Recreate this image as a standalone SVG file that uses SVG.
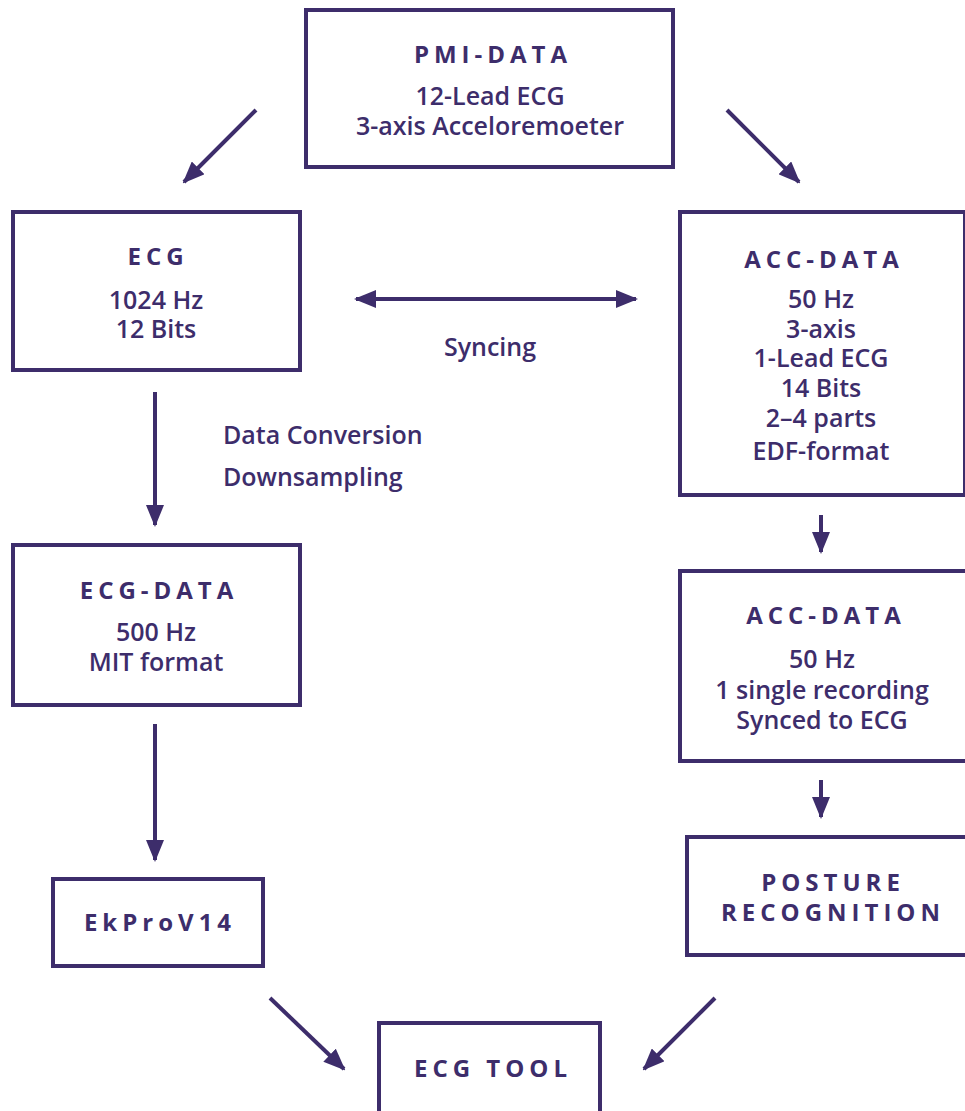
<svg xmlns="http://www.w3.org/2000/svg" width="965" height="1111" viewBox="0 0 965 1111">
<style>
.box{fill:#fff;stroke:#3d2d6b;stroke-width:4}
.t{font-family:"Open Sans","Liberation Sans",sans-serif;font-weight:700;fill:#3d2d6b;text-anchor:middle}
.h{font-size:24px;letter-spacing:5px}
.b{font-size:25px;font-weight:600}
.lbl{font-family:"Open Sans","Liberation Sans",sans-serif;font-weight:600;fill:#3d2d6b;font-size:25px}
.c{fill:none;stroke:#3d2d6b;stroke-width:4}
</style>
<defs>
<marker id="ah" markerUnits="userSpaceOnUse" viewBox="0 0 22 18" refX="20" refY="9" markerWidth="22" markerHeight="18" orient="auto-start-reverse">
<path d="M0,0 L22,9 L0,18 z" fill="#3d2d6b"/>
</marker>
</defs>
<rect width="965" height="1111" fill="#fff"/>
<g id="connectors">
<line class="c" x1="256" y1="110" x2="184" y2="182" marker-end="url(#ah)"/>
<line class="c" x1="727" y1="110" x2="799" y2="182" marker-end="url(#ah)"/>
<line class="c" x1="356" y1="299" x2="636" y2="299" marker-start="url(#ah)" marker-end="url(#ah)"/>
<line class="c" x1="155" y1="392" x2="155" y2="525" marker-end="url(#ah)"/>
<line class="c" x1="155" y1="724" x2="155" y2="860" marker-end="url(#ah)"/>
<line class="c" x1="821" y1="515" x2="821" y2="552" marker-end="url(#ah)"/>
<line class="c" x1="821" y1="780" x2="821" y2="817" marker-end="url(#ah)"/>
<line class="c" x1="270" y1="998" x2="344" y2="1069" marker-end="url(#ah)"/>
<line class="c" x1="715" y1="998" x2="644" y2="1069" marker-end="url(#ah)"/>
<text class="t b" x="490" y="356">Syncing</text>
<text class="lbl" x="223" y="444">Data Conversion</text>
<text class="lbl" x="223" y="486">Downsampling</text>
</g>
<g id="pmi">
<rect class="box" x="306" y="10" width="367" height="157"/>
<text class="t h" x="493" y="63">PMI-DATA</text>
<text class="t b" x="490" y="105">12-Lead ECG</text>
<text class="t b" x="490" y="135">3-axis Acceloremoeter</text>
</g>
<g id="ecg">
<rect class="box" x="13" y="212" width="287" height="158"/>
<text class="t h" x="158" y="265">ECG</text>
<text class="t b" x="156" y="309">1024 Hz</text>
<text class="t b" x="156" y="338">12 Bits</text>
</g>
<g id="acc1">
<rect class="box" x="680" y="212" width="285" height="283"/>
<text class="t h" x="824" y="268">ACC-DATA</text>
<text class="t b" x="821" y="308">50 Hz</text>
<text class="t b" x="821" y="338">3-axis</text>
<text class="t b" x="821" y="367">1-Lead ECG</text>
<text class="t b" x="821" y="397">14 Bits</text>
<text class="t b" x="821" y="427">2–4 parts</text>
<text class="t b" x="821" y="460">EDF-format</text>
</g>
<g id="ecgdata">
<rect class="box" x="13" y="545" width="287" height="160"/>
<text class="t h" x="159" y="599">ECG-DATA</text>
<text class="t b" x="156" y="641">500 Hz</text>
<text class="t b" x="156" y="671">MIT format</text>
</g>
<g id="ekpro">
<rect class="box" x="53" y="879" width="210" height="87"/>
<text class="t h" x="160" y="931">EkProV14</text>
</g>
<g id="acc2">
<rect class="box" x="680" y="571" width="290" height="190"/>
<text class="t h" x="826" y="624">ACC-DATA</text>
<text class="t b" x="822" y="668">50 Hz</text>
<text class="t b" x="822" y="699">1 single recording</text>
<text class="t b" x="822" y="729">Synced to ECG</text>
</g>
<g id="posture">
<rect class="box" x="687" y="837" width="285" height="118"/>
<text class="t h" x="833" y="891">POSTURE</text>
<text class="t h" x="833" y="921">RECOGNITION</text>
</g>
<g id="ecgtool">
<rect class="box" x="379" y="1023" width="221" height="90"/>
<text class="t h" x="493" y="1077">ECG TOOL</text>
</g>
</svg>
